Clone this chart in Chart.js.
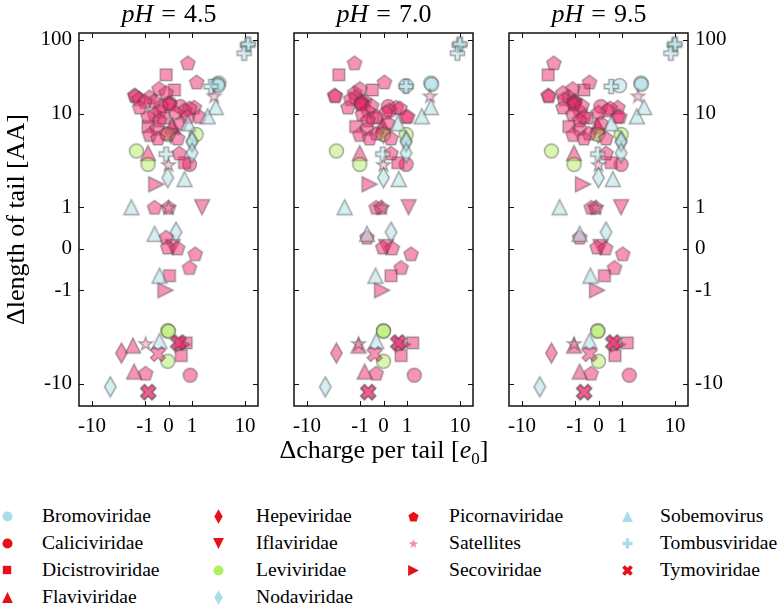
<!DOCTYPE html>
<html>
<head>
<meta charset="utf-8">
<script src="https://cdn.jsdelivr.net/npm/chart.js@4.4.1/dist/chart.umd.min.js"></script>
<style>
  html, body { margin: 0; padding: 0; background: #fff; }
  #figure { position: relative; width: 782px; height: 607px; overflow: hidden;
            font-family: 'Liberation Serif', 'DejaVu Serif', serif; color: #000; }
  .panel { position: absolute; top: 0; }
  .ph-title { position: absolute; top: 0; width: 180px; height: 27px; line-height: 27px;
              font-size: 26px; text-align: center; white-space: nowrap; }
  .ph-title .eq { padding: 0 8px; }
  #xlabel { position: absolute; left: 184px; top: 435px; width: 400px; height: 30px; line-height: 30px;
            font-size: 26px; text-align: center; white-space: nowrap; }
  .leg-text { position: absolute; font-size: 19.6px; height: 24px; line-height: 24px; white-space: nowrap; }
  .leg-mark { position: absolute; }
</style>
</head>
<body>
<div id="figure">
  <canvas id="panel0" class="panel" width="266" height="470" style="left:0px"></canvas>
  <canvas id="panel1" class="panel" width="220" height="470" style="left:270px"></canvas>
  <canvas id="panel2" class="panel" width="292" height="470" style="left:490px"></canvas>
  <div id="xlabel">&Delta;charge per tail [<i>e</i><sub style="font-size:17px">0</sub>]</div>
</div>
<script>
/**
 * Tail length vs tail charge, three pH panels, symlog axes
 */

const phLabels = ['4.5', '7.0', '9.5'];

const familyNames = [
    'Bromoviridae', 'Caliciviridae', 'Dicistroviridae', 'Flaviviridae',
    'Hepeviridae', 'Iflaviridae', 'Leviviridae', 'Nodaviridae',
    'Picornaviridae', 'Satellites', 'Secoviridae', 'Sobemovirus',
    'Tombusviridae', 'Tymoviridae'
];

const xTickValues = [-10, -1, 0, 1, 10];
const yTickValues = [-10, -1, 0, 1, 10, 100];

// one entry per virus: family index, Δ tail length, Δ charge at each pH
const familyOf = [
    12, 12, 12, 12, 12,
    0, 0, 0,
    9, 9, 9, 9,
    11, 11, 11, 11, 11, 11, 11, 11,
    7, 7, 7, 7, 7, 7,
    6, 6, 6, 6, 6, 6, 6,
    1, 1, 1, 1,
    2, 2, 2, 2, 2, 2, 2, 2,
    3, 3, 3, 3, 3,
    4,
    5, 5, 5,
    10, 10, 10,
    13, 13, 13, 13, 13,
    8, 8, 8, 8, 8, 8, 8, 8, 8, 8, 8, 8, 8, 8, 8, 8, 8, 8, 8, 8,
    8, 8, 8, 8, 8, 8, 8, 8, 8, 8, 8, 8, 8, 8, 8, 8, 8, 8, 8
];

const tailLength = [
    85, 88, 66, 23.4, 3.7,
    26, 25, 24,
    17.5, 2.87, 1, -3.7,
    12.3, 9.4, 7.9, 2.0, 1, 0.36, -0.65, -3.5,
    5.1, 5.0, 3.8, 2.07, 0.4, -10.8,
    6.0, 6.0, 4.0, 2.87, -2.7, -2.75, -5.75,
    13.9, 12.5, 2.87, -8.1,
    33.7, 21, 9, 7.3, 3.0, -0.65, -3.65, -5.0,
    7.3, 7.5, 3.8, -3.9, -7.4,
    -4.7,
    5.8, 1, 0.04,
    1.76, -1.0, -3.8,
    -3.65, -3.6, -4.8, -12.4, -12.2,
    49, 27, 22, 19.4, 18, 17.5, 17, 16, 15, 14.7, 14, 13.5, 13, 12.3, 12.3, 12, 11.3, 11, 10.5, 10,
    9.4, 9.4, 9.4, 8.6, 8, 7, 6.2, 6.0, 5.5, 5.5, 3.8, 1, 1, 0.28, 0.04, 0.02, -0.12, -0.45, -7.7
];

const chargePH45 = [
    11, 11.5, 9.6, 2.27, -0.1,
    3.2, 3.0, 3.1,
    2.6, 0, 0, -0.97,
    2.8, 1.97, 0.82, 0.68, -1.8, -0.59, -0.38, -0.38,
    1.0, 1.0, 1.0, -0.03, 0.32, -4.5,
    -0.03, 1.19, -1.45, -0.87, -0.03, 0, -0.03,
    0.04, 0.5, 0.89, 0.92,
    -0.1, 0.25, -0.2, -0.87, 0.68, 0.04, 0.75, 0.54,
    0.18, 0.15, -0.87, -1.68, -1.6,
    -2.78,
    0.1, 1.54, 0.18,
    -0.52, -0.13, 0.6,
    0.39, 0.45, -0.45, -0.87, -0.85,
    0.82, 1.22, -0.4, -0.1, -1.56, -1.5, -0.8, -1.3, -0.6, -1.0, 0.02, 0.05, -0.3, -1.26, 1.1, 0.9, 0.68, -0.38, 0.3, -0.6,
    1.37, 0.82, -0.87, -0.38, 0.5, -0.5, -0.1, -0.8, -0.45, 0.39, 0.46, -0.59, 0.0, -0.1, -0.03, 0.39, 1.15, 0.89, -0.97
];

const chargePH70 = [
    9.6, 10, 8.9, 0.96, -0.03,
    2.8, 2.9, 0.96,
    2.7, 0, -0.06, -1.06,
    2.8, 1.9, 0.6, 0.65, -1.94, -0.7, -0.34, -0.31,
    0.96, 0.96, 0.96, 0, 0.32, -4.5,
    0, 0.96, -2.78, -1.01, 0, 0, 0,
    -0.94, 0.2, 0.96, 1.37,
    -2.5, -0.48, -0.45, -1.2, 0.61, 0.32, 1.28, 0.75,
    -0.03, -0.05, -1.01, -1.06, -0.8,
    -2.78,
    0, 1.07, 0.11,
    -0.59, -0.06, 0.82,
    0.61, 0.65, -0.38, -0.66, -0.64,
    -1.26, 0.04, -1.0, -1.26, -3.0, -2.9, -1.2, -1.5, -0.8, -0.94, -0.92, -0.95, -0.5, -1.68, 0.54, 0.7, 0.25, -0.66, 0.1, -0.9,
    0.96, 1.03, -0.31, -0.66, 0.2, -0.7, -0.3, -1.01, -0.59, 0.32, 0.32, -0.31, -0.1, -0.7, -0.03, 0.37, 1.19, 0.75, -0.31
];

const chargePH95 = [
    9.6, 10, 8.3, 0.54, -0.03,
    2.27, 2.3, 0.89,
    2.0, 0, -0.1, -1.04,
    2.6, 1.9, 0.55, 0.61, -1.94, -0.8, -0.34, -0.38,
    0.96, 0.96, 0.96, 0, 0.32, -4.6,
    -0.03, 0.96, -2.78, -1.04, -0.03, -0.03, 0,
    -1.04, 0.1, 0.96, 1.37,
    -3.2, -0.62, -0.5, -1.3, 0.54, 0.25, 1.25, 0.7,
    -0.03, -0.05, -1.04, -1.04, -0.8,
    -2.78,
    0, 0.96, 0.08,
    -0.66, -0.06, 0.82,
    0.61, 0.65, -0.38, -0.62, -0.6,
    -2.5, -0.38, -1.1, -1.68, -3.2, -3.1, -1.3, -1.6, -1.0, -1.04, -1.02, -1.05, -0.7, -1.68, 0.82, 0.5, 0.39, -0.8, 0.0, -1.1,
    0.82, 0.9, -0.62, -0.8, 0.1, -0.8, -0.4, -1.08, -0.62, 0.32, 0.32, -0.31, -0.12, -0.8, -0.06, 0.3, 1.03, 0.68, -0.31
];

const chargeByPanel = [chargePH45, chargePH70, chargePH95];

// marker look per family
const familyShape = ['circle', 'circle', 'square', 'triUp', 'diamond', 'triDown', 'circle',
    'diamond', 'pentagon', 'star', 'triRight', 'triUp', 'plus', 'xmark'];
const familyTone = ['cyan', 'red', 'red', 'red', 'red', 'red', 'green',
    'cyan', 'red', 'pink', 'red', 'cyan', 'cyan', 'red'];

const plotFill = {
    red: 'rgba(240,40,110,0.5)',
    cyan: 'rgba(176,224,230,0.55)',
    green: 'rgba(180,238,100,0.5)',
    pink: 'rgba(245,140,180,0.45)'
};
const legendFill = {
    red: 'rgb(232,16,24)',
    cyan: 'rgb(168,222,232)',
    green: 'rgb(176,240,96)',
    pink: 'rgb(245,140,182)'
};
const shapeHalf = { circle: 7, square: 6.5, triUp: 7.5, triDown: 7.5, triRight: 7.5,
    diamond: 10, pentagon: 7.5, star: 7, plus: 7, xmark: 7.5 };

const SERIF = "'Liberation Serif', 'DejaVu Serif', serif";

// ---------- symlog scale ----------
class SymlogScale extends Chart.Scale {
    static id = 'symlog';
    static defaults = {};

    determineDataLimits() {
        this.min = this.options.min;
        this.max = this.options.max;
    }

    buildTicks() {
        const vals = this.axis === 'x' ? xTickValues : yTickValues;
        return vals.map(v => ({ value: v }));
    }

    fwd(v) {
        const lin = this.options.linWidth;
        const up = this.options.upperDecade;
        const a = Math.abs(v);
        const s = Math.sign(v);
        if (a <= 1) return s * a * lin;
        const L = Math.log10(a);
        const w = s > 0 ? Math.min(L, 1) + Math.max(L - 1, 0) * up : L;
        return s * (lin + w);
    }

    inv(t) {
        const lin = this.options.linWidth;
        const up = this.options.upperDecade;
        const a = Math.abs(t);
        const s = Math.sign(t);
        if (a <= lin) return s * a / lin;
        let w = a - lin;
        if (s > 0 && w > 1) w = 1 + (w - 1) / up;
        return s * Math.pow(10, w);
    }

    configure() {
        super.configure();
        this._t0 = this.fwd(this.min);
        this._t1 = this.fwd(this.max);
    }

    getLabelForValue(v) {
        return String(v);
    }

    getPixelForValue(v) {
        return this.getPixelForDecimal((this.fwd(v) - this._t0) / (this._t1 - this._t0));
    }

    getValueForPixel(p) {
        return this.inv(this._t0 + this.getDecimalForPixel(p) * (this._t1 - this._t0));
    }
}
Chart.register(SymlogScale);

// ---------- marker images ----------
function shapePoints(shape) {
    const third = 1 / 3;
    const plus = [[-third, -1], [third, -1], [third, -third], [1, -third], [1, third], [third, third],
        [third, 1], [-third, 1], [-third, third], [-1, third], [-1, -third], [-third, -third]];
    switch (shape) {
        case 'square': return [[-0.9, -0.9], [0.9, -0.9], [0.9, 0.9], [-0.9, 0.9]];
        case 'triUp': return [[0, -1], [1, 1], [-1, 1]];
        case 'triDown': return [[0, 1], [1, -1], [-1, -1]];
        case 'triRight': return [[1, 0], [-1, -1], [-1, 1]];
        case 'diamond': return [[0, -1], [0.58, 0], [0, 1], [-0.58, 0]];
        case 'pentagon': {
            const pts = [];
            for (let k = 0; k < 5; k++) {
                const a = -Math.PI / 2 + k * 2 * Math.PI / 5;
                pts.push([Math.cos(a), Math.sin(a) + 0.1]);
            }
            return pts;
        }
        case 'star': {
            const pts = [];
            for (let k = 0; k < 10; k++) {
                const a = -Math.PI / 2 + k * Math.PI / 5;
                const r = k % 2 ? 0.4 : 1;
                pts.push([r * Math.cos(a), r * Math.sin(a) + 0.1]);
            }
            return pts;
        }
        case 'plus': return plus;
        case 'xmark': {
            const c = Math.SQRT1_2;
            return plus.map(([x, y]) => [(x - y) * c * 1.05, (x + y) * c * 1.05]);
        }
    }
    return null;
}

function makeMarker(shape, fill, stroke, lineWidth, half) {
    const dim = Math.ceil(2 * half + 2 * lineWidth + 4);
    const c = document.createElement('canvas');
    c.width = dim;
    c.height = dim;
    const g = c.getContext('2d');
    const cx = dim / 2, cy = dim / 2;
    g.beginPath();
    if (shape === 'circle') {
        g.arc(cx, cy, half, 0, 2 * Math.PI);
    } else {
        shapePoints(shape).forEach(([px, py], i) => {
            if (i === 0) g.moveTo(cx + px * half, cy + py * half);
            else g.lineTo(cx + px * half, cy + py * half);
        });
        g.closePath();
    }
    g.fillStyle = fill;
    g.fill();
    if (stroke) {
        g.lineJoin = 'miter';
        g.lineWidth = lineWidth;
        g.strokeStyle = stroke;
        g.stroke();
    }
    return c;
}

const plotMarkers = familyNames.map((_, f) =>
    makeMarker(familyShape[f], plotFill[familyTone[f]], 'rgba(70,70,70,0.45)', 1.5, shapeHalf[familyShape[f]]));
const legendMarkers = familyNames.map((_, f) =>
    makeMarker(familyShape[f], legendFill[familyTone[f]], null, 0, shapeHalf[familyShape[f]] * 0.72));

// ---------- frame with inward ticks ----------
const frameTicks = {
    id: 'frameTicks',
    beforeDatasetsDraw(chart) {
        const { ctx, chartArea: a, scales: { x, y } } = chart;
        const len = 5;
        ctx.save();
        ctx.strokeStyle = '#111';
        ctx.lineWidth = 1;
        ctx.beginPath();
        x.ticks.forEach(t => {
            const px = Math.round(x.getPixelForValue(t.value)) + 0.5;
            ctx.moveTo(px, a.bottom); ctx.lineTo(px, a.bottom - len);
            ctx.moveTo(px, a.top); ctx.lineTo(px, a.top + len);
        });
        y.ticks.forEach(t => {
            const py = Math.round(y.getPixelForValue(t.value)) + 0.5;
            ctx.moveTo(a.left, py); ctx.lineTo(a.left + len, py);
            ctx.moveTo(a.right, py); ctx.lineTo(a.right - len, py);
        });
        ctx.stroke();
        ctx.lineWidth = 1.5;
        ctx.strokeRect(a.left, a.top, a.right - a.left, a.bottom - a.top);
        ctx.restore();
    }
};

// ---------- panels ----------
function buildDatasets(p) {
    const charges = chargeByPanel[p];
    return familyNames.map((name, f) => ({
        label: name,
        data: tailLength
            .map((len, i) => ({ x: charges[i], y: len, fam: familyOf[i] }))
            .filter(d => d.fam === f),
        pointStyle: plotMarkers[f],
        pointRadius: 7,
        clip: false,
        order: familyNames.length - f
    }));
}

const tickFont = { family: SERIF, size: 21 };

function makePanel(p) {
    const padding = [
        { top: 33, right: 7, bottom: 0, left: 0 },
        { top: 33, right: 17, bottom: 0, left: 24 },
        { top: 33, right: 0, bottom: 0, left: 19 }
    ][p];

    const yAxis = {
        type: 'symlog',
        min: -17.3,
        max: 124,
        linWidth: 0.444,
        upperDecade: 0.79,
        display: p !== 1,
        position: p === 2 ? 'right' : 'left',
        grid: { display: false, drawTicks: false },
        border: { display: false },
        ticks: { color: '#000', font: tickFont, padding: 7, autoSkip: false },
        afterFit: s => { s.width = [79, 0, 94][p]; }
    };
    if (p === 0) {
        yAxis.title = {
            display: true,
            text: 'Δlength of tail [AA]',
            color: '#000',
            font: { family: SERIF, size: 26 },
            padding: { top: 2, bottom: 0 }
        };
    }

    new Chart(document.getElementById('panel' + p), {
        type: 'scatter',
        data: { datasets: buildDatasets(p) },
        options: {
            responsive: false,
            animation: false,
            events: [],
            layout: { padding },
            plugins: {
                legend: { display: false },
                tooltip: { enabled: false },
                title: { display: false }
            },
            scales: {
                x: {
                    type: 'symlog',
                    min: -17.5,
                    max: 17.5,
                    linWidth: 0.444,
                    upperDecade: 1,
                    grid: { display: false, drawTicks: false },
                    border: { display: false },
                    ticks: {
                        color: '#000', font: tickFont, padding: 8,
                        autoSkip: false, maxRotation: 0, minRotation: 0
                    },
                    afterFit: s => { s.height = 64; }
                },
                y: yAxis
            }
        },
        plugins: [frameTicks]
    });
}

const fig = document.getElementById('figure');
const panelCenters = [169, 384, 599];

phLabels.forEach((ph, p) => {
    makePanel(p);
    const t = document.createElement('div');
    t.className = 'ph-title';
    t.style.left = (panelCenters[p] - 90) + 'px';
    t.innerHTML = `<i>pH</i><span class="eq">=</span>${ph}`;
    fig.appendChild(t);
});

// ---------- legend (4 columns, column-major like matplotlib) ----------
const colSizes = [4, 4, 3, 3];
const markX = [7, 218, 413, 627];
const textX = [42, 256, 449, 660];
let f = 0;
colSizes.forEach((n, col) => {
    for (let row = 0; row < n; row++, f++) {
        const cy = 516 + row * 27;
        const m = legendMarkers[f];
        m.className = 'leg-mark';
        m.style.left = (markX[col] - m.width / 2) + 'px';
        m.style.top = (cy - m.height / 2) + 'px';
        fig.appendChild(m);

        const txt = document.createElement('div');
        txt.className = 'leg-text';
        txt.style.left = textX[col] + 'px';
        txt.style.top = (cy - 12) + 'px';
        txt.textContent = familyNames[f];
        fig.appendChild(txt);
    }
});
</script>
</body>
</html>
